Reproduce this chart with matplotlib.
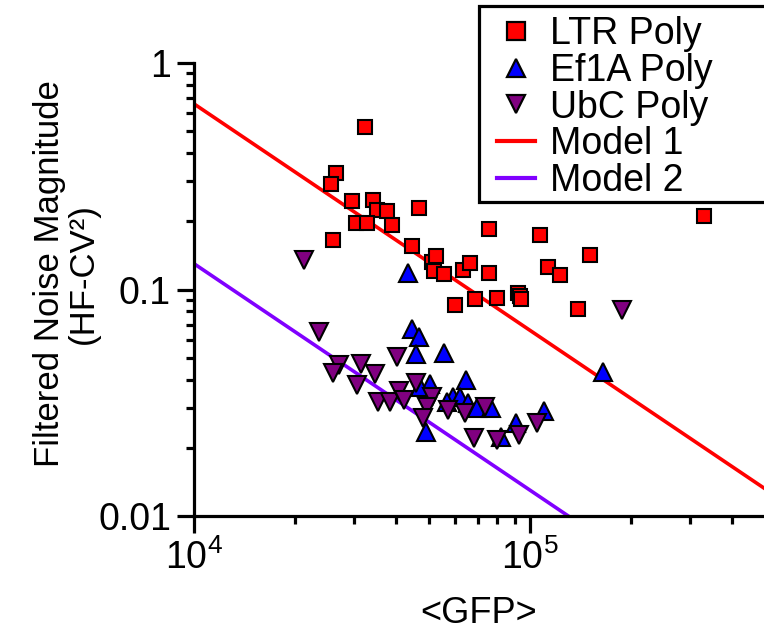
import matplotlib
matplotlib.use("Agg")
import matplotlib.pyplot as plt
from matplotlib.lines import Line2D
from matplotlib.patches import Rectangle
from matplotlib.ticker import LogLocator, NullFormatter

plt.rcParams['font.family'] = ['Liberation Sans', 'DejaVu Sans']
plt.rcParams['mathtext.fontset'] = 'custom'
plt.rcParams['mathtext.rm'] = 'Liberation Sans'
plt.rcParams['mathtext.it'] = 'Liberation Sans:italic'
plt.rcParams['mathtext.bf'] = 'Liberation Sans:bold'

# LTR Poly (red squares)
ltr_gfp = [32300, 26500, 25600, 29500, 34100, 35000, 37500, 46700, 30400, 32700,
           38800, 25900, 75500, 107000, 44600, 51100, 52500, 51800, 55500, 63200,
           66300, 75500, 113000, 123000, 59800, 68600, 79800, 92100, 93400, 94000,
           139000, 151000, 330000]
ltr_noise = [0.522, 0.327, 0.292, 0.246, 0.248, 0.224, 0.222, 0.229, 0.197, 0.197,
             0.193, 0.165, 0.185, 0.174, 0.156, 0.132, 0.141, 0.121, 0.117, 0.122,
             0.131, 0.118, 0.126, 0.116, 0.0854, 0.0908, 0.0918, 0.0965, 0.0936, 0.0908,
             0.082, 0.142, 0.211]

# Ef1A Poly (blue triangles)
ef1a_gfp = [43400, 44600, 46700, 45800, 55500, 50400, 47100, 64500, 59000, 61900,
            56600, 65400, 69600, 76500, 49000, 90900, 82000, 110000, 165000]
ef1a_noise = [0.118, 0.0669, 0.0617, 0.0519, 0.0524, 0.0383, 0.0371, 0.0399, 0.0335, 0.0335,
              0.0319, 0.0316, 0.0300, 0.0300, 0.0235, 0.0257, 0.0223, 0.0291, 0.0432]

# UbC Poly (purple down triangles)
ubc_gfp = [21200, 23600, 27000, 25900, 31400, 30600, 34600, 40200, 35300, 38300,
           40700, 42200, 45800, 51100, 49400, 48000, 57000, 64000, 73500, 68100,
           79800, 92700, 105000, 188000]
ubc_noise = [0.135, 0.0649, 0.0464, 0.0428, 0.0469, 0.0379, 0.0423, 0.0504, 0.0319, 0.0319,
             0.0356, 0.0325, 0.0387, 0.0335, 0.0303, 0.0271, 0.0294, 0.0285, 0.0303, 0.0221,
             0.0217, 0.0228, 0.0257, 0.0812]

# model lines (end points)
model1_gfp = [1e4, 5e5]
model1_noise = [0.66, 0.0132]
model2_gfp = [1e4, 5e5]
model2_noise = [0.13, 0.0026]

labels = ["LTR Poly", "Ef1A Poly", "UbC Poly", "Model 1", "Model 2"]

fig = plt.figure(figsize=(7.64, 6.34), dpi=100)
ax = fig.add_axes([194 / 764, 1 - 516 / 634, 570 / 764, 453 / 634])

ax.plot(model1_gfp, model1_noise, color="#ff0000", lw=2.6, zorder=2)
ax.plot(model2_gfp, model2_noise, color="#8000ff", lw=2.6, zorder=2)

ax.plot(ltr_gfp, ltr_noise, "s", ms=10.5, mfc="#ff0000", mec="black", mew=1.5, zorder=3)
ax.plot(ef1a_gfp, ef1a_noise, "^", ms=13, mfc="#0000ff", mec="black", mew=1.5, zorder=3)
ax.plot(ubc_gfp, ubc_noise, "v", ms=13, mfc="#800080", mec="black", mew=1.5, zorder=3)

ax.set_xscale("log")
ax.set_yscale("log")
ax.set_xlim(1e4, 4.97e5)
ax.set_ylim(0.01, 1)

for side in ["top", "right"]:
    ax.spines[side].set_visible(False)
for side in ["left", "bottom"]:
    ax.spines[side].set_linewidth(2.3)

ax.set_yticks([0.01, 0.1, 1])
ax.set_yticklabels(["0.01", "0.1", "1"])
ax.xaxis.set_minor_locator(LogLocator(base=10, subs=range(2, 10)))
ax.yaxis.set_minor_locator(LogLocator(base=10, subs=range(2, 10)))
ax.xaxis.set_minor_formatter(NullFormatter())
ax.yaxis.set_minor_formatter(NullFormatter())
ax.tick_params(which="major", direction="out", length=12.5, width=2.3, labelsize=27, pad=4)
ax.tick_params(which="minor", direction="out", length=6, width=2.3)

ax.set_xlabel("<GFP>", fontsize=26, labelpad=14)
ax.set_ylabel("Filtered Noise Magnitude\n(HF-CV²)", fontsize=25, linespacing=1.05)
ax.yaxis.set_label_coords(-0.165, 0.535)

# legend box drawn by hand so it can run off the right edge like the original
box = Rectangle((479 / 764, 1 - 202 / 634), 300 / 764, 196 / 634, transform=fig.transFigure,
                facecolor="white", edgecolor="black", lw=2.3, zorder=4)
fig.patches.append(box)

handles = [
    Line2D([], [], ls="none", marker="s", ms=13, mfc="#ff0000", mec="black", mew=1.6),
    Line2D([], [], ls="none", marker="^", ms=13, mfc="#0000ff", mec="black", mew=1.6),
    Line2D([], [], ls="none", marker="v", ms=13, mfc="#800080", mec="black", mew=1.6),
    Line2D([], [], color="#ff0000", lw=3),
    Line2D([], [], color="#8000ff", lw=3),
]
leg = fig.legend(handles, labels, loc="upper left",
                 bbox_to_anchor=(497 / 764, 1 - 16 / 634),
                 bbox_transform=fig.transFigure, fontsize=27, frameon=False,
                 borderpad=0, labelspacing=0.02, handlelength=1.0, handletextpad=0.4,
                 borderaxespad=0)
leg.set_zorder(5)

fig.savefig("out.png", dpi=100)
